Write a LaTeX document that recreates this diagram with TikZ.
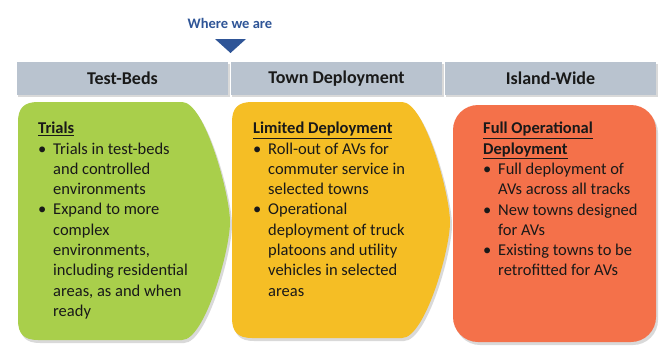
\documentclass[tikz,border=0pt]{standalone}
\usepackage{fontspec}
\setmainfont{Carlito}
\definecolor{barfill}{RGB}{185,195,207}
\definecolor{greenbox}{RGB}{169,207,75}
\definecolor{yellowbox}{RGB}{245,190,37}
\definecolor{orangebox}{RGB}{244,113,74}
\definecolor{navy}{RGB}{47,85,151}
\definecolor{txt}{RGB}{25,25,25}
\newcommand{\mybul}{\makebox[15pt][l]{\textbullet}}
\newcommand{\myind}{\hspace*{15pt}}
\newcommand{\myhead}[1]{\underline{\textbf{#1}}}
\begin{document}
\begin{tikzpicture}[x=1pt,y=-1pt,
  bar/.style={fill=barfill, draw=none, minimum width=211pt, minimum height=33pt, inner sep=0pt,
    font=\fontsize{18}{21}\selectfont\bfseries, text=txt},
  body/.style={anchor=north west, inner sep=0pt, align=left,
    font=\fontsize{16.5}{20.3}\selectfont, text=txt},
  shade/.style={fill=black, opacity=0.15}]
\useasboundingbox (0,0) rectangle (668,348);
\fill[white] (0,0) rectangle (668,348);

% top marker
\node[font=\fontsize{14.5}{17}\selectfont\bfseries, text=navy, inner sep=0pt] (where) at (230,23) {Where we are};
\fill[navy] (215,39) -- (246,39) -- (230.5,53) -- cycle;

% header bars with shadow
\fill[shade] (18,64) rectangle (230,97);
\fill[shade] (232,64) rectangle (444,97);
\fill[shade] (446,64) rectangle (658,97);
\node[bar] (b1) at (122.5,78.5) {Test-Beds};
\node[bar] (b2) at (336.5,78.5) {Town Deployment};
\node[bar] (b3) at (550.5,78.5) {Island-Wide};

% shapes shadow
\begin{scope}[shift={(2,3)}]
\fill[shade] (38,102) -- (182,102) .. controls (205,102) and (230,195) .. (230,222) .. controls (230,250) and (205,340) .. (182,340) -- (38,340) .. controls (24,340) and (18,334) .. (18,320) -- (18,122) .. controls (18,108) and (24,102) .. (38,102) -- cycle;
\fill[shade] (252,102) -- (402,102) .. controls (425,102) and (450,195) .. (450,222) .. controls (450,250) and (425,338) .. (402,338) -- (252,338) .. controls (238,338) and (232,332) .. (232,318) -- (232,122) .. controls (232,108) and (238,102) .. (252,102) -- cycle;
\fill[shade, rounded corners=25pt] (453,105) rectangle (656,342);
\end{scope}

% shapes
\fill[greenbox] (38,102) -- (182,102) .. controls (205,102) and (230,195) .. (230,222) .. controls (230,250) and (205,340) .. (182,340) -- (38,340) .. controls (24,340) and (18,334) .. (18,320) -- (18,122) .. controls (18,108) and (24,102) .. (38,102) -- cycle;
\fill[yellowbox] (252,102) -- (402,102) .. controls (425,102) and (450,195) .. (450,222) .. controls (450,250) and (425,338) .. (402,338) -- (252,338) .. controls (238,338) and (232,332) .. (232,318) -- (232,122) .. controls (232,108) and (238,102) .. (252,102) -- cycle;
\fill[orangebox, rounded corners=25pt] (453,105) rectangle (656,342);

% texts
\node[body] (t1) at (38,122) {\myhead{Trials}\\
\mybul Trials in test-beds\\
\myind and controlled\\
\myind environments\\
\mybul Expand to more\\
\myind complex\\
\myind environments,\\
\myind including residential\\
\myind areas, as and when\\
\myind ready};
\node[body] (t2) at (253,122) {\myhead{Limited Deployment}\\
\mybul Roll-out of AVs for\\
\myind commuter service in\\
\myind selected towns\\
\mybul Operational\\
\myind deployment of truck\\
\myind platoons and utility\\
\myind vehicles in selected\\
\myind areas};
\node[body] (t3) at (483,122) {\myhead{Full Operational}\\
\myhead{Deployment}\\
\mybul Full deployment of\\
\myind AVs across all tracks\\
\mybul New towns designed\\
\myind for AVs\\
\mybul Existing towns to be\\
\myind retrofitted for AVs};
\end{tikzpicture}
\end{document}
